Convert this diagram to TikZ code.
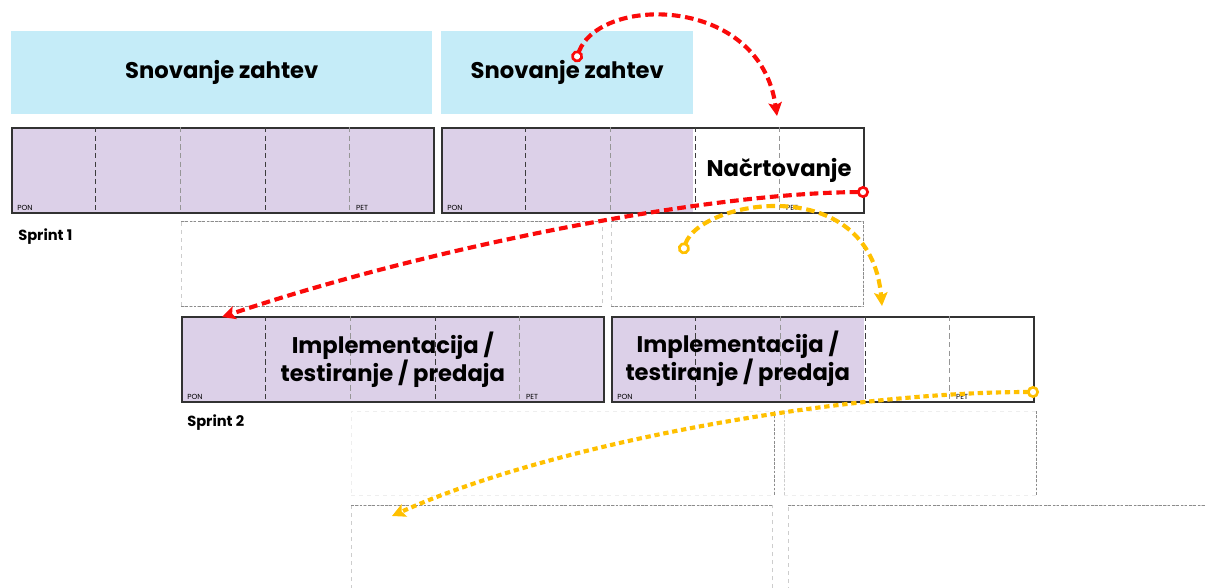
\documentclass[tikz,border=0pt]{standalone}
\usepackage{fontspec}
\setmainfont{Poppins}
\usetikzlibrary{positioning, calc, arrows.meta}
\definecolor{reqblue}{RGB}{197,236,248}
\definecolor{daylilac}{RGB}{220,208,232}
\definecolor{frame}{RGB}{50,50,50}
\definecolor{divdark}{RGB}{60,60,60}
\definecolor{divlight}{RGB}{150,150,150}
\definecolor{ghost}{RGB}{140,140,140}
\definecolor{ghostlight}{RGB}{205,205,205}
\definecolor{ghostfaint}{RGB}{238,238,238}
\definecolor{flowred}{RGB}{250,10,10}
\definecolor{flowgold}{RGB}{255,192,0}
\tikzset{
  boxsize/.style 2 args={minimum width=#1*0.75pt, minimum height=#2*0.75pt},
  reqbox/.style={rectangle, fill=reqblue, anchor=north west, inner sep=0pt, font=\bfseries\fontsize{17}{21}\selectfont},
  weekbox/.style={rectangle, draw=frame, line width=1.2pt, anchor=north west, inner sep=0pt},
  dayfill/.style={rectangle, fill=daylilac, anchor=north west, inner sep=0pt},
  ghostbox/.style={rectangle, draw=ghostlight, dashed, line width=0.6pt, anchor=north west, inner sep=0pt},
  ghostedge/.style={draw=ghost, dash pattern=on 2pt off 1.2pt, line width=0.6pt},
  divider/.style={draw=divdark, dash pattern=on 4pt off 2.5pt, line width=0.8pt},
  daylabel/.style={anchor=south west, inner sep=0pt, font=\fontsize{5.5}{6}\selectfont},
  bigtext/.style={inner sep=0pt, align=center, font=\bfseries\fontsize{17}{21}\selectfont},
  sprintlabel/.style={anchor=west, inner sep=0pt, font=\bfseries\fontsize{11}{12}\selectfont},
  redflow/.style={draw=flowred, line width=3.1pt, dash pattern=on 6.5pt off 3.5pt,
    {Circle[fill=white, length=9pt, width=9pt, line width=2pt]}-{Stealth[length=10pt, width=10pt, inset=2pt]}},
  goldflow/.style={redflow, draw=flowgold},
  golddots/.style={goldflow, dash pattern=on 4pt off 2.8pt},
}

\begin{document}
\begin{tikzpicture}[x=0.75pt, y=-0.75pt]
\useasboundingbox (0,0) rectangle (1206,588);

% backlog work
\node[reqbox, boxsize={421}{83}] (req1) at (11,31) {Snovanje zahtev};
\node[reqbox, boxsize={252}{83}] (req2) at (441,31) {Snovanje zahtev};

% sprint 1
\node[dayfill, boxsize={422}{85}] (fill1) at (11,127) {};
\node[weekbox, boxsize={422}{85}] (wk1) at (11,127) {};
\node[dayfill, boxsize={252}{85}] (fill2) at (441,127) {};
\node[weekbox, boxsize={422}{85}] (wk2) at (441,127) {};

% placeholders between sprints
\node[ghostbox, boxsize={421}{85}] (gh1) at (181,221) {};
\node[ghostbox, boxsize={252}{85}] (gh2) at (611,221) {};
\draw[ghostedge] (gh1.north west) -- (gh1.north east) (gh1.south west) -- (gh1.south east);
\draw[ghostedge] (gh2.north west) -- (gh2.north east) (gh2.south west) -- (gh2.south east)
  (gh2.north east) -- (gh2.south east);

% sprint 2
\node[dayfill, boxsize={422}{85}] (fill3) at (181,316) {};
\node[weekbox, boxsize={422}{85}] (wk3) at (181,316) {};
\node[dayfill, boxsize={253}{85}] (fill4) at (611,316) {};
\node[weekbox, boxsize={422}{85}] (wk4) at (611,316) {};

\node[ghostbox, draw=ghostfaint, boxsize={423}{84}] (gh3) at (351,411) {};
\node[ghostbox, draw=ghostfaint, boxsize={252}{84}] (gh4) at (784,411) {};
\draw[ghostedge] (gh3.north east) -- (gh3.south east);
\draw[ghostedge] (gh4.north east) -- (gh4.south east);
\draw[ghostedge, draw=ghostlight] (gh4.north west) -- (gh4.south west);

\node[ghostbox, draw=ghostlight, boxsize={421}{110}] (gh5) at (351,505) {};
\node[ghostbox, draw=ghostlight, boxsize={440}{110}] (gh6) at (788,505) {};
\draw[ghostedge] (gh5.north west) -- (gh5.north east);
\draw[ghostedge] (gh6.north west) -- (gh6.north east);

% days of the week
\foreach \w in {wk1,wk2,wk3,wk4}{
  \foreach \i in {1,3}
    \draw[divider] ($(\w.north west)!\i/5!(\w.north east)$) -- ($(\w.south west)!\i/5!(\w.south east)$);
  \foreach \i in {2,4}
    \draw[divider, draw=divlight] ($(\w.north west)!\i/5!(\w.north east)$) -- ($(\w.south west)!\i/5!(\w.south east)$);
  \node[daylabel] (\w-pon) at ($(\w.south west)+(6,-3)$) {PON};
  \node[daylabel] (\w-pet) at ($(\w.south west)!4/5!(\w.south east)+(6,-3)$) {PET};
}

\node[bigtext] (plan) at ($(fill2.east)!.5!(wk2.east)$) {Načrtovanje};
\node[bigtext] (impl1) at (wk3.center) {Implementacija /\\testiranje / predaja};
\node[bigtext] (impl2) at (fill4.center) {Implementacija /\\testiranje / predaja};

\node[sprintlabel] (sprint1) at (18,237) {Sprint 1};
\node[sprintlabel] (sprint2) at (187,423) {Sprint 2};

% hand-overs
\coordinate (r1a) at (575,62);
\coordinate (r1b) at (777,116);
\coordinate (r2a) at (869,192);
\coordinate (r2b) at (222,317);
\coordinate (g1a) at (682,254);
\coordinate (g1b) at (882,306);
\coordinate (g2a) at (1039,392);
\coordinate (g2b) at (392,516);
\draw[redflow] (r1a) .. controls (600,-5) and (760,-5) .. (r1b);
\draw[redflow] (r2a) .. controls (700,193) and (420,250) .. (r2b);
\draw[goldflow] (g1a) .. controls (700,200) and (870,170) .. (g1b);
\draw[golddots] (g2a) .. controls (850,392) and (560,440) .. (g2b);
\end{tikzpicture}
\end{document}
